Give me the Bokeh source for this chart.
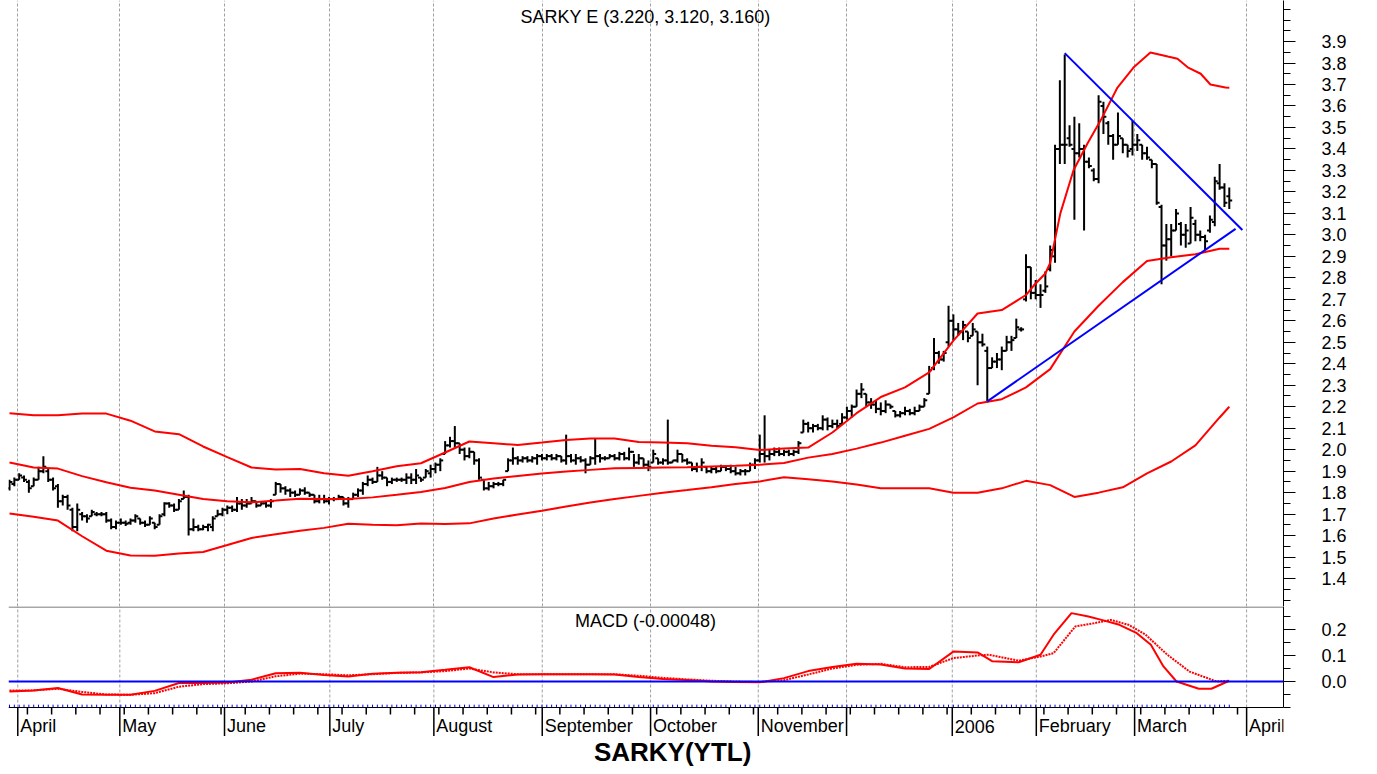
from bokeh.plotting import figure
from bokeh.models import Range1d, FixedTicker, Span, Label, ColumnDataSource, PrintfTickFormatter
from bokeh.layouts import column
from bokeh.embed import file_html
from bokeh.resources import INLINE

# ---------------- data (daily OHLC, trading-day index) ----------------
opens = [1.82,1.84,1.86,1.87,1.85,1.83,1.86,1.90,1.90,1.86,
         1.83,1.76,1.78,1.72,1.64,1.70,1.69,1.69,1.70,1.70,
         1.70,1.67,1.64,1.66,1.66,1.66,1.67,1.68,1.66,1.65,
         1.66,1.65,1.70,1.75,1.74,1.72,1.77,1.78,1.63,1.64,
         1.63,1.64,1.64,1.69,1.70,1.72,1.73,1.72,1.75,1.74,
         1.75,1.76,1.74,1.75,1.74,1.79,1.84,1.82,1.81,1.80,
         1.79,1.81,1.80,1.79,1.76,1.77,1.76,1.77,1.77,1.78,
         1.75,1.77,1.79,1.81,1.84,1.86,1.85,1.88,1.87,1.85,
         1.86,1.86,1.86,1.87,1.86,1.87,1.87,1.89,1.91,1.93,
         1.98,2.02,2.04,2.03,2.00,1.97,1.99,1.95,1.86,1.82,
         1.83,1.84,1.84,1.90,1.95,1.96,1.95,1.96,1.95,1.96,
         1.97,1.96,1.97,1.96,1.97,1.95,1.97,1.95,1.96,1.95,
         1.93,1.96,1.97,1.96,1.96,1.97,1.96,1.98,1.96,1.99,
         1.94,1.96,1.93,1.94,1.96,1.94,1.95,1.94,1.95,1.98,
         1.95,1.94,1.91,1.92,1.92,1.90,1.91,1.90,1.92,1.91,
         1.90,1.89,1.90,1.90,1.93,1.95,1.98,1.97,1.98,1.99,
         1.98,1.99,1.98,1.99,2.08,2.12,2.10,2.11,2.10,2.14,
         2.11,2.12,2.12,2.15,2.18,2.20,2.26,2.26,2.22,2.21,
         2.19,2.18,2.21,2.18,2.16,2.17,2.18,2.17,2.18,2.20,
         2.26,2.38,2.45,2.42,2.50,2.60,2.56,2.55,2.55,2.53,
         2.55,2.50,2.46,2.38,2.41,2.42,2.46,2.50,2.52,2.56,
         2.70,2.85,2.73,2.72,2.74,2.84,2.90,3.40,3.42,3.45,
         3.40,3.38,3.40,3.34,3.30,3.26,3.60,3.52,3.46,3.42,
         3.45,3.42,3.40,3.42,3.42,3.38,3.35,3.33,3.13,2.95,
         2.98,3.02,3.05,3.00,2.96,3.05,3.00,2.99,3.02,3.06,
         3.24,3.22,3.18]
highs = [1.86,1.87,1.89,1.88,1.86,1.87,1.92,1.97,1.91,1.87,
         1.84,1.79,1.79,1.73,1.75,1.71,1.70,1.72,1.71,1.71,
         1.71,1.68,1.67,1.68,1.67,1.68,1.70,1.68,1.67,1.69,
         1.66,1.70,1.755,1.755,1.75,1.77,1.81,1.79,1.68,1.65,
         1.65,1.655,1.69,1.72,1.73,1.74,1.74,1.78,1.77,1.77,
         1.78,1.76,1.76,1.76,1.77,1.85,1.84,1.83,1.82,1.81,
         1.82,1.825,1.80,1.79,1.79,1.79,1.78,1.78,1.79,1.78,
         1.78,1.80,1.82,1.85,1.88,1.87,1.92,1.90,1.87,1.87,
         1.87,1.87,1.89,1.89,1.91,1.87,1.91,1.93,1.94,1.96,
         2.04,2.06,2.11,2.03,2.01,2.01,1.99,1.96,1.86,1.85,
         1.85,1.85,1.86,1.96,2.01,1.97,1.97,1.97,1.97,1.98,
         1.98,1.98,1.98,1.98,1.97,2.07,1.98,1.98,1.97,1.96,
         1.97,2.05,1.98,1.97,1.98,1.98,1.99,1.99,2.01,1.98,
         1.98,1.96,1.95,2.00,1.96,1.96,2.14,1.95,2.00,1.98,
         1.96,1.94,1.94,1.96,1.92,1.92,1.92,1.93,1.92,1.93,
         1.92,1.91,1.91,1.94,1.96,2.07,2.16,2.00,2.01,2.01,
         2.00,2.00,2.00,2.04,2.14,2.13,2.12,2.12,2.16,2.15,
         2.14,2.14,2.17,2.20,2.21,2.28,2.31,2.26,2.24,2.23,
         2.22,2.23,2.21,2.18,2.18,2.20,2.19,2.20,2.21,2.24,
         2.39,2.52,2.46,2.46,2.67,2.63,2.59,2.60,2.55,2.59,
         2.55,2.54,2.48,2.43,2.45,2.48,2.53,2.53,2.61,2.57,
         2.91,2.85,2.79,2.77,2.83,2.95,3.42,3.72,3.84,3.51,
         3.55,3.52,3.42,3.36,3.31,3.65,3.62,3.53,3.47,3.57,
         3.45,3.42,3.53,3.47,3.42,3.41,3.35,3.33,3.14,3.05,
         3.05,3.12,3.06,3.05,3.13,3.07,3.02,3.00,3.09,3.27,
         3.33,3.24,3.22]
lows = [1.81,1.83,1.86,1.85,1.80,1.83,1.86,1.89,1.85,1.81,
        1.73,1.74,1.72,1.62,1.62,1.67,1.66,1.69,1.69,1.69,
        1.66,1.63,1.63,1.65,1.645,1.65,1.66,1.65,1.64,1.65,
        1.63,1.65,1.69,1.73,1.71,1.72,1.77,1.60,1.62,1.62,
        1.625,1.62,1.62,1.69,1.69,1.70,1.71,1.71,1.72,1.73,
        1.75,1.73,1.74,1.73,1.73,1.79,1.80,1.79,1.78,1.78,
        1.79,1.79,1.78,1.75,1.75,1.75,1.745,1.76,1.77,1.74,
        1.73,1.77,1.78,1.79,1.83,1.84,1.85,1.86,1.83,1.84,
        1.85,1.85,1.84,1.84,1.84,1.85,1.87,1.87,1.89,1.90,
        1.98,2.01,2.01,1.98,1.95,1.96,1.93,1.86,1.81,1.81,
        1.82,1.83,1.83,1.90,1.93,1.93,1.94,1.94,1.94,1.93,
        1.95,1.95,1.95,1.95,1.94,1.93,1.94,1.93,1.94,1.89,
        1.93,1.93,1.94,1.95,1.96,1.95,1.95,1.95,1.95,1.92,
        1.93,1.92,1.90,1.94,1.93,1.93,1.93,1.94,1.94,1.94,
        1.93,1.90,1.895,1.90,1.89,1.89,1.89,1.90,1.90,1.89,
        1.88,1.88,1.88,1.90,1.91,1.94,1.94,1.95,1.97,1.97,
        1.97,1.97,1.97,1.98,2.08,2.08,2.08,2.09,2.09,2.09,
        2.10,2.10,2.12,2.14,2.15,2.20,2.24,2.20,2.19,2.17,
        2.16,2.17,2.19,2.15,2.15,2.16,2.16,2.16,2.18,2.20,
        2.26,2.37,2.40,2.41,2.48,2.51,2.53,2.51,2.50,2.53,
        2.30,2.48,2.22,2.38,2.38,2.37,2.46,2.46,2.52,2.55,
        2.69,2.70,2.70,2.66,2.73,2.83,2.87,3.33,3.33,3.41,
        3.07,3.36,3.02,3.31,3.25,3.24,3.47,3.42,3.35,3.42,
        3.38,3.36,3.37,3.39,3.35,3.35,3.31,3.14,2.77,2.88,
        2.90,3.02,2.95,2.94,2.96,2.97,2.97,2.93,3.01,3.04,
        3.21,3.13,3.12]
closes = [1.85,1.86,1.88,1.86,1.82,1.86,1.90,1.92,1.86,1.82,
          1.76,1.78,1.74,1.64,1.72,1.69,1.68,1.71,1.70,1.70,
          1.67,1.64,1.66,1.66,1.655,1.67,1.69,1.66,1.65,1.68,
          1.64,1.69,1.75,1.74,1.72,1.76,1.78,1.63,1.64,1.63,
          1.64,1.65,1.68,1.70,1.72,1.73,1.72,1.75,1.74,1.75,
          1.76,1.74,1.75,1.74,1.76,1.84,1.82,1.81,1.80,1.79,
          1.81,1.80,1.79,1.76,1.77,1.76,1.77,1.77,1.78,1.75,
          1.77,1.79,1.81,1.84,1.86,1.85,1.88,1.87,1.85,1.86,
          1.86,1.86,1.87,1.86,1.88,1.86,1.90,1.91,1.93,1.95,
          2.02,2.04,2.03,2.00,1.97,1.99,1.95,1.87,1.82,1.83,
          1.84,1.84,1.86,1.95,1.96,1.95,1.96,1.95,1.96,1.97,
          1.96,1.97,1.96,1.97,1.95,1.97,1.95,1.96,1.95,1.93,
          1.96,1.97,1.96,1.96,1.97,1.96,1.98,1.96,1.99,1.94,
          1.96,1.93,1.92,1.98,1.94,1.95,1.94,1.95,1.98,1.95,
          1.94,1.91,1.92,1.94,1.90,1.91,1.90,1.92,1.91,1.90,
          1.89,1.90,1.90,1.93,1.95,1.98,1.97,1.98,1.99,1.98,
          1.99,1.98,1.99,2.03,2.12,2.10,2.11,2.10,2.14,2.11,
          2.12,2.11,2.15,2.18,2.20,2.26,2.28,2.22,2.21,2.19,
          2.18,2.21,2.20,2.16,2.17,2.18,2.17,2.18,2.20,2.23,
          2.37,2.45,2.42,2.45,2.60,2.56,2.55,2.58,2.52,2.56,
          2.50,2.49,2.38,2.41,2.42,2.46,2.50,2.51,2.57,2.56,
          2.85,2.73,2.72,2.72,2.76,2.93,3.40,3.42,3.42,3.42,
          3.38,3.40,3.34,3.32,3.26,3.62,3.55,3.46,3.42,3.46,
          3.42,3.39,3.42,3.44,3.38,3.36,3.33,3.15,2.95,2.98,
          3.02,3.10,3.00,3.02,3.08,3.00,2.99,2.97,3.07,3.25,
          3.22,3.15,3.16]

# Bollinger bands (middle / lower read every 5 trading days)
band_idx = [0,5,10,15,20,25,30,35,40,45,50,55,60,65,70,75,80,85,90,95,
            100,105,110,115,120,125,130,135,140,145,150,155,160,165,170,175,
            180,185,190,195,200,205,210,215,220,225,230,235,240,245,250,252]
middle = [1.94,1.917,1.912,1.877,1.848,1.823,1.81,1.79,1.77,1.76,
          1.755,1.763,1.772,1.77,1.77,1.778,1.79,1.803,1.822,1.85,
          1.866,1.878,1.889,1.898,1.906,1.913,1.915,1.917,1.918,1.922,
          1.925,1.93,1.938,1.963,1.98,2.005,2.033,2.065,2.097,2.15,
          2.215,2.235,2.29,2.375,2.55,2.67,2.78,2.878,2.896,2.91,
          2.935,2.935]
lower = [1.703,1.688,1.67,1.597,1.53,1.507,1.506,1.517,1.524,1.556,
         1.589,1.606,1.623,1.636,1.655,1.65,1.648,1.656,1.654,1.657,
         1.68,1.698,1.716,1.735,1.754,1.77,1.785,1.80,1.812,1.825,
         1.84,1.852,1.872,1.862,1.852,1.838,1.82,1.82,1.82,1.80,
         1.80,1.82,1.855,1.835,1.78,1.80,1.825,1.89,1.945,2.02,
         2.15,2.2]
# upper band, read more densely where it bends in February-March
upper_idx = [0,5,10,15,20,25,30,35,40,45,50,55,60,65,70,75,80,85,90,95,
             100,105,110,115,120,125,130,135,140,145,150,155,160,165,170,175,
             180,185,190,195,200,205,210,211.6,214,215,217.1,219.8,222.7,225.4,
             228.9,232.2,235.7,239.3,241.3,243.4,246.1,248.1,251.2,252]
upper = [2.17,2.16,2.16,2.168,2.168,2.135,2.085,2.072,2.015,1.965,
         1.917,1.908,1.91,1.89,1.879,1.90,1.923,1.937,1.987,2.038,
         2.03,2.022,2.033,2.045,2.052,2.052,2.036,2.033,2.03,2.018,
         2.011,1.998,2.005,2.01,2.08,2.17,2.245,2.29,2.36,2.508,
         2.634,2.65,2.72,2.764,2.82,2.87,3.10,3.30,3.425,3.532,
         3.686,3.779,3.849,3.83,3.82,3.78,3.75,3.70,3.686,3.685]

# MACD line and its signal line
macd_idx = [0,5,10,15,20,25,30,35,40,45,50,55,60,65,70,75,80,85,90,95,
            100,105,110,115,120,125,130,135,140,145,150,155,160,165,170,175,
            180,185,190,195,200,203,208.5,213,215.7,219.4,222.9,225.6,229.3,
            232.9,235.8,238.4,241.1,245.7,248.3,252]
macd = [-0.038,-0.035,-0.025,-0.05,-0.051,-0.051,-0.036,-0.006,-0.006,-0.004,
        0.007,0.032,0.034,0.025,0.019,0.030,0.034,0.036,0.045,0.055,
        0.017,0.027,0.028,0.028,0.028,0.027,0.017,0.01,0.006,0.0,
        -0.002,-0.003,0.013,0.04,0.056,0.068,0.065,0.05,0.048,0.115,
        0.112,0.078,0.074,0.103,0.18,0.263,0.25,0.237,0.218,
        0.186,0.141,0.058,0.0,-0.028,-0.028,0.003]
signal_idx = [0,5,10,15,20,25,30,35,40,45,50,55,60,65,70,75,80,85,90,95,
              100,105,110,115,120,125,130,135,140,145,150,155,160,165,170,175,
              180,185,190,195,200,202.3,208.5,213,215.7,220.2,224,227.5,231.2,
              234.7,239.2,243.8,249.4,252]
signal = [-0.035,-0.034,-0.028,-0.04,-0.05,-0.051,-0.045,-0.02,-0.01,-0.007,
          0.0,0.02,0.03,0.028,0.024,0.028,0.033,0.035,0.04,0.05,
          0.035,0.028,0.028,0.028,0.028,0.028,0.022,0.014,0.008,0.003,
          0.0,-0.002,0.005,0.027,0.05,0.064,0.068,0.055,0.056,0.09,
          0.1,0.103,0.08,0.096,0.109,0.212,0.224,0.237,0.218,
          0.18,0.103,0.038,0.0,0.003]

# trend lines (day index, price)
down_x = [218, 254.7]
down_y = [3.846, 3.023]
up_x = [202, 253.3]
up_y = [2.225, 3.028]

# month boundaries (trading-day index) and labels
month_pos = [1.71, 22.79, 44.42, 66.18, 87.67, 110.06, 132.44, 154.69, 172.93,
             194.77, 212.13, 232.44, 255.58]
month_names = ["April", "May", "June", "July", "August", "September", "October",
               "November", "", "2006", "February", "March", "April"]
week_pos = [3.7 + 5 * k for k in range(51)]

price_ticks = [1.4,1.5,1.6,1.7,1.8,1.9,2.0,2.1,2.2,2.3,2.4,2.5,2.6,2.7,2.8,2.9,
               3.0,3.1,3.2,3.3,3.4,3.5,3.6,3.7,3.8,3.9]
price_minor = [1.3,1.35,1.45,1.55,1.65,1.75,1.85,1.95,2.05,2.15,2.25,2.35,2.45,
               2.55,2.65,2.75,2.85,2.95,3.05,3.15,3.25,3.35,3.45,3.55,3.65,3.75,
               3.85,3.95,4.0,4.05]
macd_ticks = [0.0, 0.1, 0.2]
macd_minor = [-0.1, -0.05, 0.05, 0.15, 0.25]

title_text = "SARKY E (3.220, 3.120, 3.160)"
macd_text = "MACD (-0.00048)"
bottom_text = "SARKY(YTL)"

# ---------------- layout ----------------
FONT = "Liberation Sans"
W = 1377
LB = 8
RB = 94
n = len(closes)
idx = list(range(n))
xr = Range1d(-0.207, 263.2)

src = ColumnDataSource(dict(
    x=idx, xl=[i - 0.6 for i in idx], xr=[i + 0.6 for i in idx],
    o=opens, h=highs, l=lows, c=closes))

def style_right_axis(ax, size):
    ax.axis_line_color = "black"
    ax.major_tick_line_color = "black"
    ax.minor_tick_line_color = "black"
    ax.major_tick_out = 12
    ax.major_tick_in = 0
    ax.minor_tick_out = 7
    ax.minor_tick_in = 0
    ax.major_label_standoff = 26
    ax.major_label_text_font = FONT
    ax.major_label_text_font_size = size
    ax.major_label_text_color = "black"
    ax.formatter = PrintfTickFormatter(format="%.1f")

p = figure(width=W, height=606, x_range=xr, y_range=Range1d(1.27, 4.091),
           title=None, output_backend="svg", toolbar_location=None,
           y_axis_location="right", x_axis_location=None,
           min_border_left=LB, min_border_right=RB,
           min_border_top=0, min_border_bottom=0)
p.outline_line_color = None
p.xgrid.ticker = FixedTicker(ticks=month_pos)
p.xgrid.grid_line_color = "#a0a0a0"
p.xgrid.grid_line_dash = "3 2"
p.ygrid.visible = False
ya = p.yaxis[0]
ya.ticker = FixedTicker(ticks=price_ticks, minor_ticks=price_minor)
style_right_axis(ya, "18px")

p.segment(x0="x", y0="l", x1="x", y1="h", source=src, line_color="black", line_width=2)
p.segment(x0="xl", y0="o", x1="x", y1="o", source=src, line_color="black", line_width=2)
p.segment(x0="x", y0="c", x1="xr", y1="c", source=src, line_color="black", line_width=2)

p.line(upper_idx, upper, line_color="#ff0000", line_width=2)
p.line(band_idx, middle, line_color="#ff0000", line_width=2)
p.line(band_idx, lower, line_color="#ff0000", line_width=2)
p.line(down_x, down_y, line_color="#0000ff", line_width=2)
p.line(up_x, up_y, line_color="#0000ff", line_width=2)

p.add_layout(Label(x=131.4, y=4.012, text=title_text, text_align="center",
                   text_baseline="middle", text_font=FONT, text_font_size="18px",
                   text_color="black"))

# MACD panel; its frame also holds the month axis drawn below the MACD scale
MB = -0.1      # bottom of MACD scale
MT = 0.2885    # top of MACD scale
q = figure(width=W, height=168, x_range=xr, y_range=Range1d(-0.3577, MT),
           title=None, output_backend="svg", toolbar_location=None,
           y_axis_location="right", x_axis_location=None,
           min_border_left=LB, min_border_right=RB,
           min_border_top=0, min_border_bottom=0)
q.outline_line_color = None
q.xgrid.visible = False
q.ygrid.visible = False
qa = q.yaxis[0]
qa.ticker = FixedTicker(ticks=macd_ticks, minor_ticks=macd_minor)
qa.bounds = (MB, MT)
style_right_axis(qa, "18px")

nm = len(month_pos)
q.segment(x0=month_pos, y0=[MB] * nm, x1=month_pos, y1=[MT] * nm,
          line_color="#a0a0a0", line_dash="3 2", line_width=1)
q.add_layout(Span(location=MT - 0.002, dimension="width", line_color="#555555", line_width=1))
q.add_layout(Span(location=0, dimension="width", line_color="#0000ff", line_width=2))
q.add_layout(Span(location=MB, dimension="width", line_color="black", line_width=1))
q.segment(x0=month_pos, y0=[MB] * nm, x1=month_pos, y1=[MB - 0.11] * nm,
          line_color="black", line_width=1.5)
nw = len(week_pos)
q.segment(x0=week_pos, y0=[MB] * nw, x1=week_pos, y1=[MB - 0.027] * nw,
          line_color="black", line_width=1.5)
q.segment(x0=idx, y0=[MB + 0.001] * n, x1=idx, y1=[MB + 0.011] * n,
          line_color="#0000ff", line_width=1)

q.line(signal_idx, signal, line_color="#ff0000", line_width=2, line_dash="2 1")
q.line(macd_idx, macd, line_color="#ff0000", line_width=2)

q.add_layout(Label(x=131.4, y=0.231, text=macd_text, text_align="center",
                   text_baseline="middle", text_font=FONT, text_font_size="18px",
                   text_color="black"))
for pos, name in zip(month_pos, month_names):
    if name:
        q.add_layout(Label(x=pos + 0.5, y=-0.173, text=name, text_align="left",
                           text_baseline="middle", text_font=FONT,
                           text_font_size="18px", text_color="black"))
q.add_layout(Label(x=137.0, y=-0.273, text=bottom_text, text_align="center",
                   text_baseline="middle", text_font=FONT, text_font_size="26px",
                   text_font_style="bold", text_color="black"))

layout = column(p, q, spacing=0)
open("out.html", "w").write(file_html(layout, INLINE))
